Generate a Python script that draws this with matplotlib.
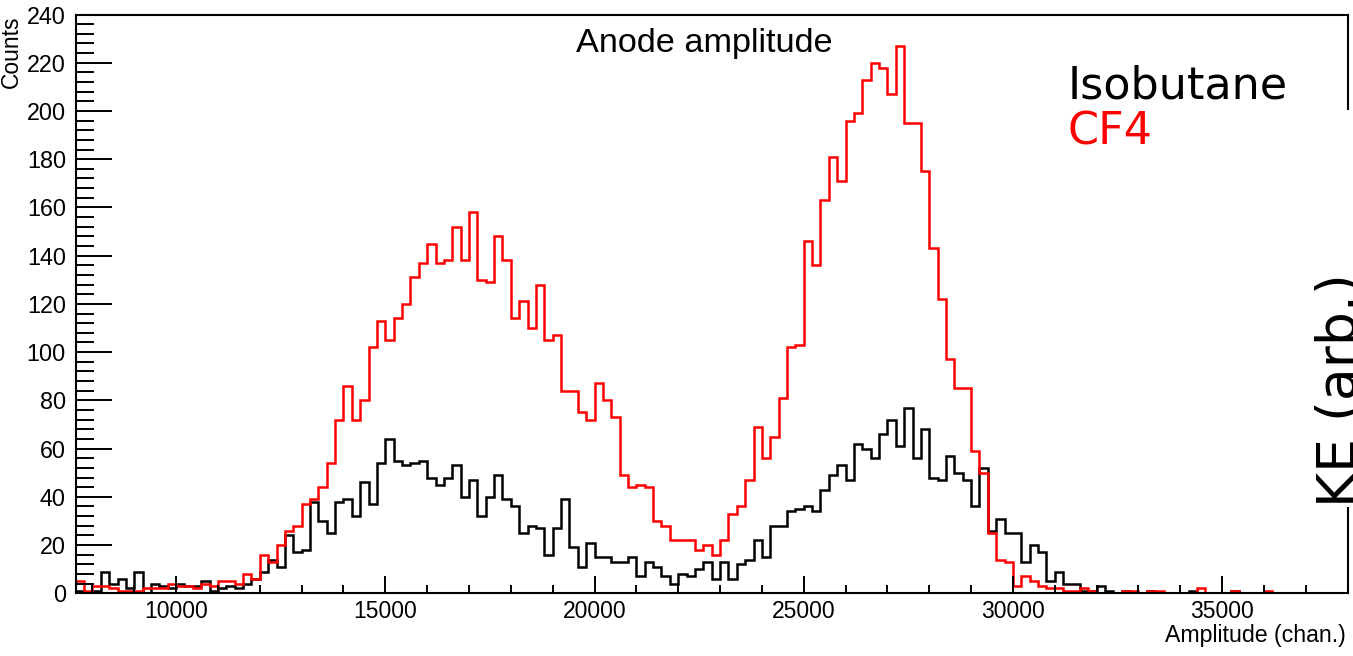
import numpy as np
import matplotlib
matplotlib.use("Agg")
import matplotlib.pyplot as plt
from matplotlib.ticker import MultipleLocator
from matplotlib.patches import Rectangle

W, H = 1353, 656

# histogram binning (channels)
bin_lo, bin_hi, bin_w = 7600, 38000, 200

# CF4 (red) counts per 200-channel bin, starting at 7600
cf4_counts = [
    5, 1, 3, 3, 2, 1, 1, 1, 2, 2, 2, 4, 3, 3, 2, 4, 3, 5, 5, 4,
    8, 6, 16, 13, 20, 26, 28, 37, 39, 44, 54, 72, 86, 72, 80, 102, 113, 105, 114, 120,
    131, 137, 145, 137, 138, 152, 138, 158, 130, 129, 148, 138, 114, 121, 110, 128, 105, 107, 84, 84,
    75, 72, 87, 80, 73, 49, 44, 45, 44, 30, 28, 22, 22, 22, 18, 20, 16, 22, 33, 36,
    47, 69, 56, 65, 81, 102, 103, 146, 136, 163, 181, 171, 196, 199, 213, 220, 218, 207, 227, 195,
    195, 175, 143, 122, 97, 85, 85, 59, 50, 25, 14, 13, 3, 7, 5, 3, 2, 2, 1, 1,
    2, 1, 0, 0, 0, 1, 1, 0, 1, 1, 0, 0, 0, 0, 2, 0, 0, 0, 1, 0,
    0, 0, 1, 0, 0, 0, 0, 0, 0, 0, 0, 0,
]

# Isobutane (black) counts per bin
isobutane_counts = [
    1, 0, 1, 9, 4, 6, 2, 9, 0, 4, 3, 2, 4, 3, 3, 5, 1, 2, 3, 2,
    4, 6, 9, 14, 11, 24, 17, 18, 38, 30, 25, 38, 39, 32, 46, 37, 54, 64, 55, 53,
    54, 55, 48, 45, 48, 53, 40, 47, 32, 40, 49, 39, 36, 25, 28, 27, 16, 27, 39, 19,
    11, 21, 15, 15, 13, 13, 15, 7, 13, 11, 7, 4, 8, 7, 10, 13, 6, 13, 6, 12,
    14, 22, 15, 28, 28, 34, 35, 36, 34, 43, 49, 53, 47, 62, 60, 56, 66, 72, 61, 77,
    56, 68, 48, 47, 57, 50, 47, 36, 52, 26, 31, 25, 25, 13, 20, 17, 5, 9, 4, 4,
    1, 1, 3, 1, 0, 1, 0, 0, 1, 0, 0, 0, 0, 1, 0, 0, 0, 0, 1, 0,
    0, 0, 0, 0, 0, 0, 0, 0, 0, 0, 0, 0,
]

x_major = [10000, 15000, 20000, 25000, 30000, 35000]
y_major = list(range(0, 241, 20))

edges = np.arange(bin_lo, bin_hi + bin_w, bin_w)

helv = "Liberation Sans"
fig = plt.figure(figsize=(W / 100, H / 100), dpi=100)

def fx(x):
    return x / W

def fy(y):
    return 1 - y / H

ax_l, ax_r, ax_t, ax_b = 75.7, 1347.7, 14.5, 593.3
ax = fig.add_axes([fx(ax_l), fy(ax_b), (ax_r - ax_l) / W, (ax_b - ax_t) / H])

ax.stairs(isobutane_counts, edges, color="black", lw=1.8, baseline=None)
ax.stairs(cf4_counts, edges, color="#ff0000", lw=1.8, baseline=None)

ax.set_xlim(bin_lo, bin_hi)
ax.set_ylim(0, 240)
ax.set_xticks(x_major)
ax.set_xticklabels([str(v) for v in x_major])
ax.set_yticks(y_major)
ax.set_yticklabels([str(v) for v in y_major])
ax.xaxis.set_minor_locator(MultipleLocator(1000))
ax.yaxis.set_minor_locator(MultipleLocator(4))

for s in ax.spines.values():
    s.set_linewidth(1.5)

ax.tick_params(axis="both", which="both", direction="in", top=False, right=False, width=1.4)
ax.tick_params(axis="x", which="major", length=12.5, pad=4.5, labelsize=16.5)
ax.tick_params(axis="x", which="minor", length=6)
ax.tick_params(axis="y", which="major", length=26, pad=7, labelsize=16.8)
ax.tick_params(axis="y", which="minor", length=13)
for lab in ax.get_xticklabels() + ax.get_yticklabels():
    lab.set_fontfamily(helv)

# axis titles (ROOT style, right-aligned)
fig.text(fx(1346), fy(642), "Amplitude (chan.)", ha="right", va="baseline",
         fontsize=16.7, family=helv)
fig.text(fx(17.5), fy(15), "Counts", rotation=90, rotation_mode="anchor",
         ha="right", va="baseline", fontsize=16.5, family=helv)

# histogram title
fig.text(fx(704), fy(52), "Anode amplitude", ha="center", va="baseline",
         fontsize=24.7, family=helv)

# legend-like labels
fig.text(fx(1068), fy(98.5), "Isobutane", ha="left", va="baseline",
         fontsize=32, family="DejaVu Sans", color="black")
fig.text(fx(1068), fy(144.5), "CF4", ha="left", va="baseline",
         fontsize=32, family="DejaVu Sans", color="#ff0000")

# white box hiding part of the right frame, with rotated label (cut at the edge, as in the original)
fig.patches.append(Rectangle((fx(1330), fy(507)), (W - 1330) / W, (507 - 110) / H,
                             transform=fig.transFigure, facecolor="white",
                             edgecolor="none", zorder=5))
fig.text(fx(1356), fy(507), "KE (arb.)", rotation=90, rotation_mode="anchor",
         ha="left", va="baseline", fontsize=38.6, family="DejaVu Sans",
         color="black", zorder=6)

fig.savefig("out.png", dpi=100)
